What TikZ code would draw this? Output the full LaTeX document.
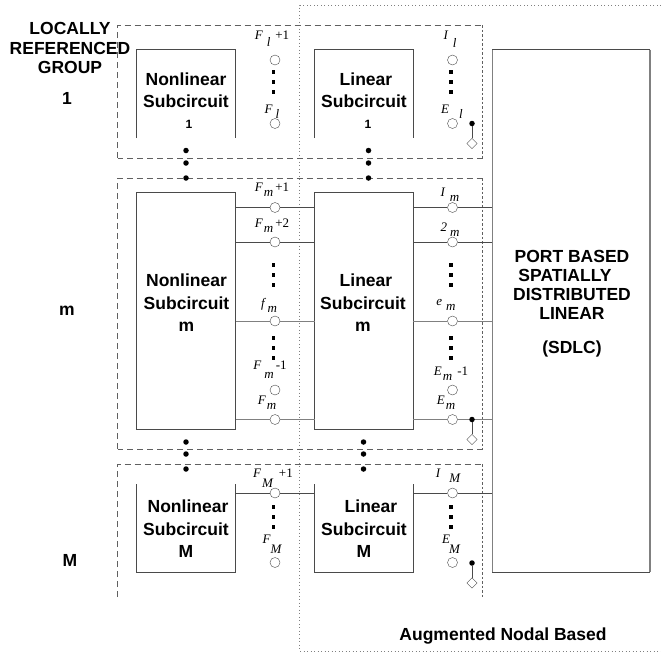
\documentclass[tikz,border=0pt]{standalone}
\usepackage{fontspec}
\setmainfont{Liberation Sans}
\newfontfamily\serifport{Liberation Serif}
\usepackage{tikz}
\usetikzlibrary{shapes.geometric}
\usepackage{xcolor}
\definecolor{wire}{HTML}{4A4A4A}
\definecolor{wirelight}{HTML}{808080}
\definecolor{groupline}{HTML}{606060}
\newcommand{\portlab}[3]{{\serifport\itshape #1\kern1pt\raisebox{-5pt}{#2}\kern2pt\upshape #3}}

\begin{document}
\begin{tikzpicture}[
    x=1pt, y=-1pt,
    ckt/.style={minimum width=#1, inner sep=0pt, outer sep=0pt},
    boxtext/.style={font=\fontsize{17.5}{22.5}\selectfont\bfseries, align=center},
    tighttext/.style={font=\fontsize{17.5}{19.2}\selectfont\bfseries, align=center},
    smalltext/.style={font=\fontsize{12}{14}\selectfont\bfseries},
    port/.style={draw=wire, circle, minimum size=10pt, inner sep=0pt},
    portlabel/.style={font=\fontsize{13}{15}\selectfont, inner sep=0pt},
    bigdot/.style={fill=black, circle, minimum size=5.5pt, inner sep=0pt},
    smalldot/.style={fill=black, rectangle, minimum size=3.5pt, inner sep=0pt},
    gnddot/.style={fill=black, circle, minimum size=5.5pt, inner sep=0pt},
    gnd/.style={draw=wire, diamond, fill=white, minimum size=10.5pt, inner sep=0pt},
    boxline/.style={draw=wire, line width=0.9pt},
    wireline/.style={draw=wire, line width=0.9pt},
    grouphoriz/.style={draw=groupline, line width=0.8pt, dash pattern=on 6pt off 4pt},
    groupright/.style={draw=groupline, line width=0.8pt, dash pattern=on 2.5pt off 2pt},
]
\useasboundingbox (0,0) rectangle (661,654);

% Augmented nodal region
\draw[wirelight, line width=0.8pt, dash pattern=on 1pt off 2.5pt] (661,5) -- (299.5,5) -- (299.5,651) -- (661,651);

% Locally referenced group outlines
\coordinate (ga) at (117.5,25);
\coordinate (gb) at (482.5,158);
\coordinate (gc) at (117.5,178);
\coordinate (gd) at (482.5,449);
\coordinate (ge) at (117.5,464);
\coordinate (gf) at (482.5,597);
\draw[grouphoriz] (gb -| ga) -- (ga) -- (ga -| gb);
\draw[groupright] (ga -| gb) -- (gb);
\draw[grouphoriz] (gb) -- (gb -| ga);
\draw[grouphoriz] (gd -| gc) -- (gc) -- (gc -| gd);
\draw[groupright] (gc -| gd) -- (gd);
\draw[grouphoriz] (gd) -- (gd -| gc);
\draw[grouphoriz] (gf -| ge) -- (ge) -- (ge -| gf);
\draw[groupright] (ge -| gf) -- (gf);

% Left titles
\node[tighttext] (title) at (70,48) {LOCALLY\\REFERENCED\\GROUP};
\node[boxtext] (idxa) at (67,98) {1};
\node[boxtext] (idxb) at (67,311) {m};
\node[boxtext] (idxc) at (70,560) {M};

% Subcircuits
\node[ckt=99pt, minimum height=88.5pt] (nla) at (186,93.75) {};
\node[ckt=98.5pt, minimum height=88.5pt] (lna) at (363.75,93.75) {};
\node[ckt=99.5pt, minimum height=236.5pt] (nlb) at (185.75,310.75) {};
\node[ckt=98.5pt, minimum height=236.5pt] (lnb) at (363.75,310.75) {};
\node[ckt=99pt, minimum height=88pt] (nlc) at (186,528) {};
\node[ckt=98.5pt, minimum height=88pt] (lnc) at (363.75,528) {};
\node[ckt=158pt, minimum height=522.5pt] (sdlc) at (571,310.75) {};

\draw[boxline] (nla.south west) -- (nla.north west) -- (nla.north east) -- (nla.south east);
\draw[boxline] (lna.south west) -- (lna.north west) -- (lna.north east) -- (lna.south east);
\draw[boxline] (nlb.south west) rectangle (nlb.north east);
\draw[boxline] (lnb.south west) rectangle (lnb.north east);
\draw[boxline] (nlc.north west) -- (nlc.south west) -- (nlc.south east) -- (nlc.north east);
\draw[boxline] (lnc.north west) -- (lnc.south west) -- (lnc.south east) -- (lnc.north east);
\draw[draw=wirelight, line width=0.9pt] (sdlc.south west) -- (sdlc.north west);
\draw[draw=wirelight, line width=1.8pt] (sdlc.north east) -- (sdlc.south east);
\draw[boxline] (sdlc.north west) -- (sdlc.north east);
\draw[boxline] (sdlc.south west) -- (sdlc.south east);

\node[boxtext] (txa) at (186,90) {Nonlinear\\Subcircuit};
\node[smalltext] (txb) at (189,124) {1};
\node[boxtext] (txc) at (364,90) {\kern4pt Linear\\Subcircuit};
\node[smalltext] (txd) at (368,124) {1};
\node[boxtext] (txe) at (186.5,303) {Nonlinear\\Subcircuit\\m};
\node[boxtext] (txf) at (363,303) {\kern6pt Linear\\Subcircuit\\m};
\node[boxtext] (txg) at (186,529) {\kern4pt Nonlinear\\Subcircuit\\M};
\node[boxtext] (txh) at (364,529) {\kern14pt Linear\\Subcircuit\\M};
\node[tighttext] (txi) at (572,285) {PORT BASED\\SPATIALLY\kern14pt\\DISTRIBUTED\\LINEAR};
\node[boxtext] (txj) at (572,349) {(SDLC)};
\node[boxtext] (txk) at (503,636) {Augmented Nodal Based};

% Ports, group 1
\node[port] (pa) at (275,60) {};
\node[port] (pb) at (275,123.5) {};
\node[port] (qa) at (452.5,60) {};
\node[port] (qb) at (452.5,123.5) {};

% Ports, group m
\node[port] (pc) at (275,207.5) {};
\node[port] (pd) at (275,242) {};
\node[port] (pe) at (275,321) {};
\node[port] (pf) at (275,390) {};
\node[port] (pg) at (275,419.5) {};
\node[port] (qc) at (452.5,207.5) {};
\node[port] (qd) at (452.5,242) {};
\node[port] (qe) at (452.5,321) {};
\node[port] (qf) at (452.5,390) {};
\node[port] (qg) at (452.5,419.5) {};

% Ports, group M
\node[port] (ph) at (275,493) {};
\node[port] (pi) at (275,562.5) {};
\node[port] (qh) at (452.5,493) {};
\node[port] (qi) at (452.5,562.5) {};

% Wires
\draw[wireline] (nlb.east |- pc) -- (pc) -- (lnb.west |- pc);
\draw[wireline] (nlb.east |- pd) -- (pd) -- (lnb.west |- pd);
\draw[wireline, draw=wirelight] (nlb.east |- pe) -- (pe) -- (lnb.west |- pe);
\draw[wireline, draw=wirelight] (nlb.east |- pg) -- (pg) -- (lnb.west |- pg);
\draw[wireline] (nlc.east |- ph) -- (ph) -- (lnc.west |- ph);
\draw[wireline] (lnb.east |- qc) -- (qc) -- (sdlc.west |- qc);
\draw[wireline] (lnb.east |- qd) -- (qd) -- (sdlc.west |- qd);
\draw[wireline, draw=wirelight] (lnb.east |- qe) -- (qe) -- (sdlc.west |- qe);
\draw[wireline, draw=wirelight] (lnb.east |- qg) -- (qg) -- (sdlc.west |- qg);
\draw[wireline] (lnc.east |- qh) -- (qh) -- (sdlc.west |- qh);

% Ground legs
\node[gnddot] (ja) at (472,123.5) {};
\node[gnd] (da) at (472,143.5) {};
\draw[wireline] (ja) -- (da);
\node[gnddot] (jb) at (472,419.5) {};
\node[gnd] (db) at (472,439.5) {};
\draw[wireline] (jb) -- (db);
\node[gnddot] (jc) at (472,563) {};
\node[gnd] (dc) at (472,583) {};
\draw[wireline] (jc) -- (dc);

% Dots between groups
\node[bigdot] (ba) at (186,150.5) {};
\node[bigdot] (bb) at (186,163) {};
\node[bigdot] (bc) at (186,178) {};
\node[bigdot] (bd) at (368.5,150.5) {};
\node[bigdot] (be) at (368.5,163) {};
\node[bigdot] (bf) at (368.5,178) {};
\node[bigdot] (bg) at (186,442) {};
\node[bigdot] (bh) at (186,454) {};
\node[bigdot] (bi) at (186,469) {};
\node[bigdot] (bj) at (363.5,442) {};
\node[bigdot] (bk) at (363.5,454) {};
\node[bigdot] (bl) at (363.5,469) {};

% Dots between ports
\node[smalldot] (sa) at (273.5,72) {};
\node[smalldot] (sb) at (273.5,82) {};
\node[smalldot] (sc) at (273.5,92) {};
\node[smalldot] (sd) at (451,72) {};
\node[smalldot] (se) at (451,82) {};
\node[smalldot] (sf) at (451,92) {};
\node[smalldot] (sg) at (273.5,265) {};
\node[smalldot] (sh) at (273.5,275) {};
\node[smalldot] (si) at (273.5,285) {};
\node[smalldot] (sj) at (451,265) {};
\node[smalldot] (sk) at (451,275) {};
\node[smalldot] (sl) at (451,285) {};
\node[smalldot] (sm) at (273.5,338) {};
\node[smalldot] (sn) at (273.5,348) {};
\node[smalldot] (so) at (273.5,358) {};
\node[smalldot] (sp) at (451,338) {};
\node[smalldot] (sq) at (451,348) {};
\node[smalldot] (sr) at (451,358) {};
\node[smalldot] (ss) at (273.5,507) {};
\node[smalldot] (st) at (273.5,517) {};
\node[smalldot] (su) at (273.5,527) {};
\node[smalldot] (sv) at (451,507) {};
\node[smalldot] (sw) at (451,517) {};
\node[smalldot] (sx) at (451,527) {};

% Port labels
\node[portlabel] (la) at (272,39) {\portlab{F}{\raisebox{-2pt}{\kern3pt l}}{\kern3pt+1}};
\node[portlabel] (lb) at (273,112) {\portlab{F}{\kern2pt l}{}};
\node[portlabel] (lc) at (451,39) {\portlab{I}{\raisebox{-3pt}{\kern4pt l}}{}};
\node[portlabel] (ld) at (453,112) {\portlab{E}{\kern9pt l}{}};
\node[portlabel] (le) at (272,190) {\portlab{F}{m}{+1}};
\node[portlabel] (lf) at (272,226) {\portlab{F}{m}{+2}};
\node[portlabel] (lg) at (270,305) {\portlab{f}{\kern2pt m}{}};
\node[portlabel] (lh) at (270,370) {\portlab{F}{\raisebox{-4pt}{\kern2pt m}}{-1}};
\node[portlabel] (li) at (268,403) {\portlab{F}{m}{}};
\node[portlabel] (lj) at (273,478) {\portlab{F}{\raisebox{-5pt}{M}}{\kern4pt+1}};
\node[portlabel] (lk) at (273,544) {\portlab{F}{\kern-1pt\raisebox{-5pt}{M}}{}};
\node[portlabel] (ll) at (451,195) {\portlab{I}{\kern4pt m}{}};
\node[portlabel] (lm) at (451,230) {\portlab{2}{\kern2pt m}{}};
\node[portlabel] (ln) at (447,305) {\portlab{e}{\kern3pt m}{}};
\node[portlabel] (lo) at (451,374) {\portlab{E}{m}{\kern3pt-1}};
\node[portlabel] (lp) at (447,403) {\portlab{E}{m}{}};
\node[portlabel] (lq) at (449,476) {\portlab{I}{\kern8pt M}{}};
\node[portlabel] (lr) at (452,544) {\portlab{E}{\kern-2pt\raisebox{-5pt}{M}}{}};

\end{tikzpicture}
\end{document}
